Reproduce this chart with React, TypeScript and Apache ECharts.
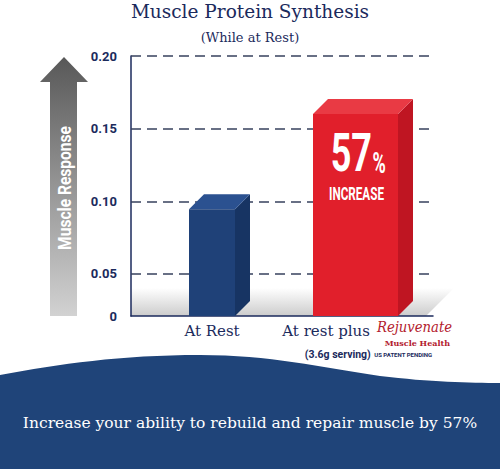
import React, { useEffect, useRef } from "react";
import * as echarts from "echarts";

const CATEGORIES = ["At Rest", "At rest plus"];
const VALUES = [0.0945, 0.16];
const Y_TICKS = [0.05, 0.1, 0.15, 0.2];
const Y_MIN = 0.021;
const Y_MAX = 0.2;

const NAVY = "#1b2a5c";
const BAR_W = [46, 85];
const BAR_DX = [5.5, -2];
const BAR_COLORS = [
  { front: "#1f4178", top: "#2b5190", side: "#173463" },
  { front: "#e11f2b", top: "#e93a44", side: "#bf1522" },
];
const COND = '"Roboto", "Liberation Sans", sans-serif';
const SERIF = '"DejaVu Serif", serif';

const WAVE_D =
  "M0 375 C60 364 120 355 200 355 C270 355 320 367 380 376 C430 382 470 383 500 383 L500 469 L0 469 Z";
echarts.graphic.registerShape("wave", echarts.graphic.extendPath(WAVE_D, {}));

export default function App() {
  const ref = useRef<HTMLDivElement>(null);
  useEffect(() => {
    document.body.style.margin = "0";
    const chart = echarts.init(ref.current!, null, { renderer: "svg" });
    const option: any = {
      animation: false,
      backgroundColor: "#ffffff",
      title: {
        text: "Muscle Protein Synthesis",
        subtext: "(While at Rest)",
        left: "center",
        top: -3,
        itemGap: 10,
        textStyle: { fontFamily: SERIF, fontSize: 18.5, fontWeight: "normal", color: NAVY },
        subtextStyle: { fontFamily: SERIF, fontSize: 13, color: NAVY },
      },
      grid: { left: 131, right: 67, top: 56, bottom: 469 - 316 },
      xAxis: {
        type: "category",
        data: [
          { value: CATEGORIES[0], textStyle: { padding: [0, 0, 0, 11] } },
          { value: CATEGORIES[1], textStyle: { padding: [0, 0, 0, 22] } },
        ],
        axisLine: { show: true, lineStyle: { color: NAVY, width: 1.5 } },
        axisTick: { show: false },
        axisLabel: {
          interval: 0,
          margin: 4,
          formatter: (v: string, i: number) =>
            i === 0
              ? `{a|${v}}`
              : `{a|${v} }{sp|}\n{s|(3.6g serving)} {p|US PATENT PENDING}`,
          rich: {
            a: { fontFamily: SERIF, fontSize: 15, color: NAVY, lineHeight: 22 },
            sp: { width: 80, lineHeight: 22 },
            s: { fontFamily: COND, fontWeight: "bold", fontSize: 10.5, color: NAVY, lineHeight: 24 },
            p: { fontFamily: COND, fontWeight: "bold", fontSize: 6, color: NAVY, lineHeight: 24 },
          },
        },
      },
      yAxis: {
        type: "value",
        min: Y_MIN,
        max: Y_MAX,
        axisLine: { show: true, lineStyle: { color: NAVY, width: 1.5 } },
        axisTick: { show: false },
        splitLine: { show: false },
        axisLabel: {
          customValues: [Y_MIN, ...Y_TICKS],
          formatter: (v: number) => (v < 0.03 ? "0" : v.toFixed(2)),
          fontFamily: COND,
          fontWeight: "bold",
          fontSize: 13,
          color: NAVY,
          margin: 14,
        },
      },
      graphic: [
        {
          type: "polygon",
          z: 0,
          shape: { points: [[131, 316], [426, 316], [454, 288], [131, 288]] },
          style: {
            fill: new echarts.graphic.LinearGradient(0, 0, 0, 1, [
              { offset: 0, color: "#ffffff" },
              { offset: 1, color: "#cccccc" },
            ]),
          },
        },
        {
          type: "polygon",
          shape: {
            points: [[64, 57], [88, 82], [77, 82], [77, 316], [50, 316], [50, 82], [40, 82]],
          },
          style: {
            fill: new echarts.graphic.LinearGradient(0, 0, 0, 1, [
              { offset: 0, color: "#585858" },
              { offset: 1, color: "#d2d2d2" },
            ]),
          },
        },
        {
          type: "text",
          x: 64,
          y: 188,
          rotation: Math.PI / 2,
          scaleX: 0.82,
          style: {
            text: "Muscle Response",
            fill: "#ffffff",
            font: `bold 19px ${COND}`,
            align: "center",
            verticalAlign: "middle",
          },
        },
        {
          type: "text",
          x: 377,
          y: 327,
          scaleX: 0.88,
          style: {
            text: "Rejuvenate",
            fill: "#b3202d",
            font: `italic 15px ${SERIF}`,
            align: "left",
            verticalAlign: "middle",
          },
        },
        {
          type: "text",
          x: 450,
          y: 342.5,
          style: {
            text: "Muscle Health",
            fill: "#b3202d",
            font: `bold 8px ${SERIF}`,
            align: "right",
            verticalAlign: "middle",
          },
        },
        {
          type: "wave",
          x: 0,
          y: 0,
          style: { fill: "#1f4479" },
        },
        {
          type: "text",
          x: 250,
          y: 423,
          style: {
            text: "Increase your ability to rebuild and repair muscle by 57%",
            fill: "#ffffff",
            font: `15.5px ${SERIF}`,
            align: "center",
            verticalAlign: "middle",
          },
        },
      ],
      series: [
        {
          type: "custom",
          clip: false,
          z: 3,
          data: VALUES.map((v, i) => [i, v]),
          encode: { x: 0, y: 1 },
          markLine: {
            silent: true,
            z: 1,
            symbol: "none",
            label: { show: false },
            lineStyle: { type: [10, 6], color: "#37415e", width: 1.5 },
            data: Y_TICKS.map((v) => ({ yAxis: v })),
          },
          renderItem: (params: any, api: any) => {
            const i = api.value(0);
            const v = api.value(1);
            const top = api.coord([i, v]);
            const base = api.coord([i, Y_MIN]);
            const w = BAR_W[i];
            const cx = top[0] + BAR_DX[i];
            const x0 = cx - w / 2;
            const x1 = cx + w / 2;
            const yT = top[1];
            const yB = base[1];
            const d = 15;
            const c = BAR_COLORS[i];
            const children: any[] = [
              {
                type: "polygon",
                shape: { points: [[x1, yB], [x1, yT], [x1 + d, yT - d], [x1 + d, yB - d]] },
                style: { fill: c.side },
              },
              {
                type: "polygon",
                shape: { points: [[x0, yT], [x0 + d, yT - d], [x1 + d, yT - d], [x1, yT]] },
                style: { fill: c.top },
              },
              {
                type: "rect",
                shape: { x: x0, y: yT, width: w, height: yB - yT },
                style: { fill: c.front },
              },
            ];
            if (i === 1) {
              children.push(
                {
                  type: "text",
                  x: cx + 16.5,
                  y: yT + 65,
                  scaleX: 0.68,
                  style: {
                    text: "57",
                    fill: "#ffffff",
                    font: `bold 53px ${COND}`,
                    align: "right",
                    verticalAlign: "bottom",
                  },
                },
                {
                  type: "text",
                  x: cx + 17,
                  y: yT + 64,
                  scaleX: 0.6,
                  style: {
                    text: "%",
                    fill: "#ffffff",
                    font: `bold 30px ${COND}`,
                    align: "left",
                    verticalAlign: "bottom",
                  },
                },
                {
                  type: "text",
                  x: cx + 1,
                  y: yT + 79.5,
                  scaleX: 0.65,
                  style: {
                    text: "INCREASE",
                    fill: "#ffffff",
                    font: `bold 18px ${COND}`,
                    align: "center",
                    verticalAlign: "middle",
                  },
                }
              );
            }
            return { type: "group", children };
          },
        },
      ],
    };
    chart.setOption(option);
    return () => chart.dispose();
  }, []);
  return <div ref={ref} style={{ width: 500, height: 469 }} />;
}
